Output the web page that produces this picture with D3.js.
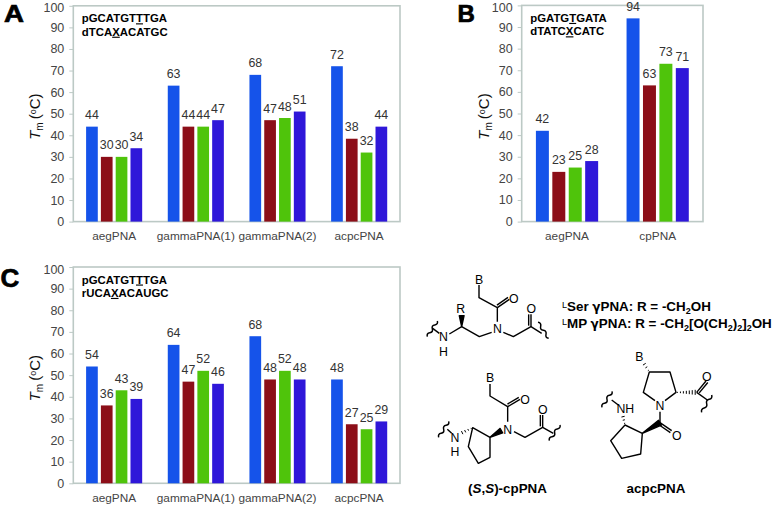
<!DOCTYPE html>
<html><head><meta charset="utf-8">
<script src="https://cdn.jsdelivr.net/npm/d3@7/dist/d3.min.js"></script>
<style>
html,body{margin:0;padding:0;background:#fff}
svg{display:block}
text{font-family:"Liberation Sans",Arial,sans-serif}
</style></head><body>
<svg id="c" width="778" height="506"></svg>
<script>
const seriesColors = ["#1553ea","#8c0e18","#4fc40b","#2f17d9"];
const yTicks = [0,10,20,30,40,50,60,70,80,90,100];

const catsA = ["aegPNA","gammaPNA(1)","gammaPNA(2)","acpcPNA"];
const valsA = [[44,30,30,34],[63,44,44,47],[68,47,48,51],[72,38.4,32,44]];
const catsB = ["aegPNA","cpPNA"];
const valsB = [[42,23,25,28],[94,63,73,71]];
const catsC = ["aegPNA","gammaPNA(1)","gammaPNA(2)","acpcPNA"];
const valsC = [[54,36,43,39],[64,47,52,46],[68,48,52,48],[48,27.3,25,28.6]];

const seqA = [["pGCATGT","T","TGA"],["dTCA","X","ACATGC"]];
const seqB = [["pGATG","T","GATA"],["dTATC","X","CATC"]];
const seqC = [["pGCATGT","T","TGA"],["rUCA","X","ACAUGC"]];

const svg = d3.select("#c");

function panel(o){
  const g = svg.append("g");
  const y = d3.scaleLinear().domain([0,100]).range([o.bottom,o.top]);
  const x0 = d3.scaleBand().domain(o.cats).range([o.left,o.right]);
  const x1 = d3.scaleBand().domain([0,1,2,3]).range([0,x0.bandwidth()]).paddingInner(0.21).paddingOuter(0.865);

  const ax = g.append("g").attr("transform",`translate(${o.left},0)`)
    .call(d3.axisLeft(y).tickValues(yTicks).tickSize(4).tickPadding(5));
  ax.select(".domain").remove();
  ax.selectAll("line").attr("stroke","#bcc9c5").attr("stroke-width",1);
  ax.selectAll("text").attr("font-size",12.5).attr("fill","#444").attr("font-family",'"Liberation Sans",Arial,sans-serif')
    .attr("y",d=>d===100?2:0);

  g.append("rect").attr("x",o.left).attr("y",o.top).attr("width",o.right-o.left).attr("height",o.bottom-o.top)
    .attr("fill","none").attr("stroke","#bcc9c5").attr("stroke-width",1.6);

  o.vals.forEach((vs,i)=>{
    const gg = g.append("g").attr("transform",`translate(${x0(o.cats[i])},0)`);
    gg.selectAll("rect").data(vs).join("rect")
      .attr("x",(d,j)=>x1(j)).attr("width",x1.bandwidth())
      .attr("y",d=>y(d)).attr("height",d=>y(0)-y(d)).attr("fill",(d,j)=>seriesColors[j]);
    gg.selectAll("text").data(vs).join("text")
      .attr("x",(d,j)=>x1(j)+x1.bandwidth()/2).attr("y",d=>y(d)-7.5)
      .attr("text-anchor","middle").attr("font-size",12.4).attr("fill","#333")
      .text(d=>Math.round(d));
  });

  g.selectAll(".cat").data(o.cats).join("text").attr("class","cat")
    .attr("x",d=>x0(d)+x0.bandwidth()/2).attr("y",o.bottom+18.5)
    .attr("text-anchor","middle").attr("font-size",11.8).attr("fill","#444").text(d=>d);

  const t = g.append("text").attr("transform",`translate(${o.left-33},${(o.top+o.bottom)/2+3}) rotate(-90)`)
    .attr("text-anchor","middle").attr("font-size",15).attr("fill","#111");
  t.append("tspan").attr("font-style","italic").text("T");
  t.append("tspan").attr("font-size",10).attr("dy",3).text("m");
  t.append("tspan").attr("dy",-3).attr("dx",3).text("(");
  t.append("tspan").attr("font-size",9).attr("dy",-4).text("o");
  t.append("tspan").attr("dy",4).text("C)");

  o.seq.forEach((parts,k)=>{
    const s = g.append("text").attr("x",o.left+8.5).attr("y",o.top+16.5+k*13.4)
      .attr("font-size",11.4).attr("font-weight","bold").attr("fill","#000");
    parts.forEach((p,n)=>{
      const ts = s.append("tspan").text(p);
      if(n===1) ts.style("text-decoration","underline");
    });
  });

  svg.append("text").attr("transform",`translate(${o.lx},${o.ly}) scale(${o.ls},1)`)
    .attr("font-size",o.lf).attr("font-weight","bold")
    .attr("fill","#000").attr("stroke","#000").attr("stroke-width",0.7).text(o.letter);
}

panel({cats:catsA,vals:valsA,seq:seqA,left:73.3,right:400,top:5.8,bottom:221.6,letter:"A",lx:4,ly:22,lf:23,ls:1.2});
panel({cats:catsB,vals:valsB,seq:seqB,left:521.7,right:703,top:5.4,bottom:221.6,letter:"B",lx:457.5,ly:22,lf:24,ls:1});
panel({cats:catsC,vals:valsC,seq:seqC,left:73.3,right:400,top:267,bottom:483.3,letter:"C",lx:0.5,ly:287,lf:26,ls:1});

// ---- chemical structures (decoration, not data) ----
const chem = svg.append("g").attr("stroke","#000").attr("fill","none").attr("stroke-width",1.4).attr("stroke-linejoin","round");
const P4 = p=>[410+p[0]/3,265+p[1]/3];
const P5 = p=>[410+p[0]/3,380+p[1]/3];
const line = d3.line();
function bonds(P,paths){ paths.forEach(a=>chem.append("path").attr("d",line(a.map(P)))); }
function dbl(P,a,b,off){
  bonds(P,[[a,b]]);
  const dx=b[0]-a[0],dy=b[1]-a[1],l=Math.hypot(dx,dy),nx=-dy/l*off,ny=dx/l*off;
  bonds(P,[[[a[0]+nx+dx*.08,a[1]+ny+dy*.08],[b[0]+nx,b[1]+ny]]]);
}
function wedge(P,a,b,w){
  const A=P(a),B=P(b),dx=B[0]-A[0],dy=B[1]-A[1],l=Math.hypot(dx,dy),nx=-dy/l*w,ny=dx/l*w;
  chem.append("path").attr("fill","#000").attr("d",line([A,[B[0]+nx,B[1]+ny],[B[0]-nx,B[1]-ny]])+"Z");
}
function hash(P,a,b,w,n){
  const A=P(a),B=P(b),dx=B[0]-A[0],dy=B[1]-A[1],l=Math.hypot(dx,dy),nx=-dy/l,ny=dx/l;
  for(let i=0;i<n;i++){const t=(i+.5)/n,h=w*t+.3;
    chem.append("path").attr("stroke-width",1).attr("d",line([[A[0]+dx*t+nx*h,A[1]+dy*t+ny*h],[A[0]+dx*t-nx*h,A[1]+dy*t-ny*h]]));}
}
function squig(P,a,b){
  const A=P(a),B=P(b),n=4,dx=(B[0]-A[0])/n,dy=(B[1]-A[1])/n,l=Math.hypot(dx,dy),nx=-dy/l*2.6,ny=dx/l*2.6;
  let d=`M${A}`;
  for(let i=0;i<n;i++){const s=i%2?1:-1;
    d+=`Q${A[0]+dx*(i+.5)+nx*s},${A[1]+dy*(i+.5)+ny*s} ${A[0]+dx*(i+1)},${A[1]+dy*(i+1)}`;}
  chem.append("path").attr("stroke-width",1.5).attr("d",d);
}
function atoms(P,list){
  list.forEach(([s,x,y])=>{const q=P([x,y]);
    svg.append("text").attr("x",q[0]).attr("y",q[1]+4.4).attr("text-anchor","middle").attr("font-size",12.3).attr("fill","#000").text(s);});
}

// gamma PNA backbone
bonds(P4,[[[207,60],[207,98],[262,128],[262,170]],
  [[245,202],[208,215],[155,185],[118,207]],
  [[280,202],[310,215],[363,185],[395,205]],[[88,205],[68,190]]]);
dbl(P4,[262,128],[298,103],-7);
dbl(P4,[363,185],[363,148],-7);
wedge(P4,[155,185],[155,152],2.4);
squig(P4,[52,215],[82,168]);
squig(P4,[384,172],[416,220]);
atoms(P4,[["B",207,43],["O",311,102],["N",262,192],["R",152,130],["N",100,216],["H",100,261],["O",364,131]]);

// cp PNA
bonds(P5,[[[240,12],[240,48],[293,80],[293,125]],
  [[312,155],[345,172],[398,142],[430,160]],
  [[240,172],[240,232],[205,250],[175,200],[188,143],[240,172]],[[112,148],[125,160]]]);
dbl(P5,[293,80],[330,58],-7);
dbl(P5,[398,142],[398,105],-7);
wedge(P5,[240,172],[274,152],2.6);
hash(P5,[188,143],[152,160],1.6,4);
squig(P5,[86,172],[116,124]);
squig(P5,[418,182],[450,135]);
atoms(P5,[["B",240,-6],["O",345,58],["N",293,148],["O",398,88],["N",135,173],["H",135,216]]);

// acpc PNA
bonds(P5,[[[735,62],[700,37],[718,-24],[780,-24],[798,37],[765,62]],
  [[750,95],[750,128]],[[860,37],[892,60]],[[605,60],[625,75]],
  [[697,160],[692,222],[635,235],[602,182],[645,135],[697,160]]]);
hash(P5,[798,37],[860,37],2.4,7);
dbl(P5,[860,37],[888,3],7);
dbl(P5,[750,128],[785,152],7);
wedge(P5,[697,160],[750,128],2.8);
hash(P5,[645,135],[638,105],1.6,3);
hash(P5,[718,-24],[700,-52],1.6,3);
squig(P5,[576,82],[606,34]);
squig(P5,[875,97],[905,45]);
atoms(P5,[["B",688,-70],["O",890,-10],["N",750,78],["O",800,168],["NH",646,85]]);

// ---- right-hand text ----
function bold(x,y,build,anchor){
  const t=svg.append("text").attr("x",x).attr("y",y).attr("font-size",13.4).attr("font-weight","bold").attr("fill","#000");
  if(anchor)t.attr("text-anchor",anchor);
  build(t);
}
const sup=(t,s)=>t.append("tspan").attr("font-size",9).attr("dy",-3.5).attr("font-weight","normal").text(s);
const sub=(t,s)=>{t.append("tspan").attr("font-size",9).attr("dy",3).text(s);};
const up=(t,s)=>t.append("tspan").attr("dy",-3).text(s);
bold(562,311,t=>{sup(t,"L");t.append("tspan").attr("dy",3.5).text("Ser ");
  t.append("tspan").attr("font-family",'"DejaVu Sans"').attr("font-size",12).text("γ");
  t.append("tspan").text("PNA: R = -CH");sub(t,"2");up(t,"OH");});
bold(562,328,t=>{sup(t,"L");t.append("tspan").attr("dy",3.5).text("MP ");
  t.append("tspan").attr("font-family",'"DejaVu Sans"').attr("font-size",12).text("γ");
  t.append("tspan").text("PNA: R = -CH");sub(t,"2");up(t,"[O(CH");sub(t,"2");up(t,")");sub(t,"2");up(t,"]");sub(t,"2");up(t,"OH");});
bold(507.5,493,t=>{t.append("tspan").text("(");t.append("tspan").attr("font-style","italic").text("S");t.append("tspan").text(",");
  t.append("tspan").attr("font-style","italic").text("S");t.append("tspan").text(")-cpPNA");},"middle");
bold(656,493,t=>t.text("acpcPNA"),"middle");
</script>
</body></html>
